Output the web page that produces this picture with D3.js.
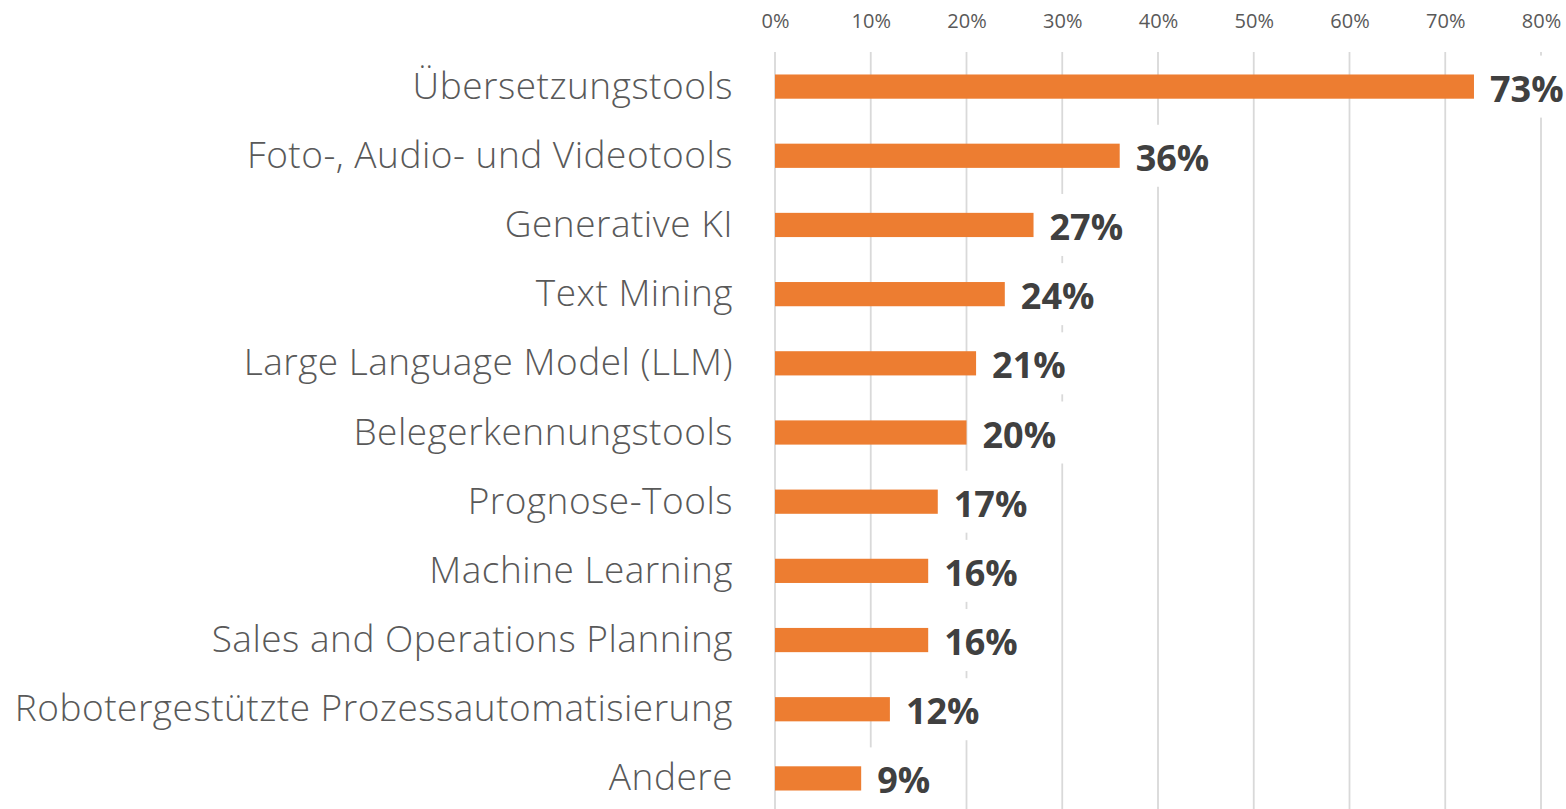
<!DOCTYPE html>
<meta charset="utf-8">
<script src="https://d3js.org/d3.v7.min.js"></script>
<style>
  body { margin: 0; background: #fff; }
</style>
<div id="my_dataviz"></div>
<script>

// data
var categories = ["Übersetzungstools", "Foto-, Audio- und Videotools", "Generative KI", "Text Mining",
  "Large Language Model (LLM)", "Belegerkennungstools", "Prognose-Tools", "Machine Learning",
  "Sales and Operations Planning", "Robotergestützte Prozessautomatisierung", "Andere"];
var shares = [0.73, 0.36, 0.27, 0.24, 0.21, 0.20, 0.17, 0.16, 0.16, 0.12, 0.09];
var tickValues = [0, 0.1, 0.2, 0.3, 0.4, 0.5, 0.6, 0.7, 0.8];

var width = 1566, height = 809;

var svg = d3.select("#my_dataviz")
  .append("svg")
  .attr("width", width)
  .attr("height", height);

var x = d3.scaleLinear()
  .domain([0, 0.8])
  .range([775, 1541]);

var y = d3.scaleBand()
  .domain(categories)
  .range([52, 813])
  .paddingInner(0.65)
  .paddingOuter(0.325);

// vertical gridlines
svg.append("g")
  .selectAll("line")
  .data(tickValues)
  .enter().append("line")
    .attr("x1", function(d) { return x(d); })
    .attr("x2", function(d) { return x(d); })
    .attr("y1", 52)
    .attr("y2", height)
    .attr("stroke", "#d9d9d9")
    .attr("stroke-width", 1.8);

// top axis, ticks only as text
var xAxis = svg.append("g")
  .attr("transform", "translate(0,28)")
  .call(d3.axisTop(x).tickValues(tickValues).tickFormat(d3.format(".0%")).tickSize(0).tickPadding(0));
xAxis.select(".domain").remove();
xAxis.selectAll("text")
  .attr("y", 0)
  .attr("dy", 0)
  .style("font-family", "'Open Sans', sans-serif")
  .style("font-size", "20px")
  .attr("fill", "#595959");

// category labels
svg.append("g")
  .selectAll("text")
  .data(categories)
  .enter().append("text")
    .attr("x", 733)
    .attr("y", function(d) { return y(d) + y.bandwidth() / 2 + 12; })
    .attr("text-anchor", "end")
    .style("font-family", "'Open Sans', sans-serif")
    .style("font-weight", 300)
    .style("font-size", "37px")
    .style("letter-spacing", "0.5px")
    .attr("fill", "#595959")
    .text(function(d) { return d; });

// bars
svg.append("g")
  .selectAll("rect")
  .data(shares)
  .enter().append("rect")
    .attr("x", x(0))
    .attr("y", function(d, i) { return y(categories[i]); })
    .attr("width", function(d) { return x(d) - x(0); })
    .attr("height", y.bandwidth())
    .attr("fill", "#ED7D31");

// value labels with white boxes behind them
var labels = svg.append("g")
  .selectAll("g")
  .data(shares)
  .enter().append("g");

labels.append("rect").attr("fill", "#fff");

labels.append("text")
  .attr("x", function(d) { return x(d) + 16; })
  .attr("y", function(d, i) { return y(categories[i]) + y.bandwidth() / 2 + 15; })
  .style("font-family", "'Open Sans', sans-serif")
  .style("font-weight", 700)
  .style("font-size", "36px")
  .attr("fill", "#404040")
  .text(function(d) { return Math.round(d * 100) + "%"; });

labels.each(function(d, i) {
  var g = d3.select(this);
  var w = g.select("text").node().getComputedTextLength();
  var cy = y(categories[i]) + y.bandwidth() / 2;
  g.select("rect")
    .attr("x", x(d) + 6)
    .attr("y", cy - 31)
    .attr("width", w + 20)
    .attr("height", 62);
});

</script>
